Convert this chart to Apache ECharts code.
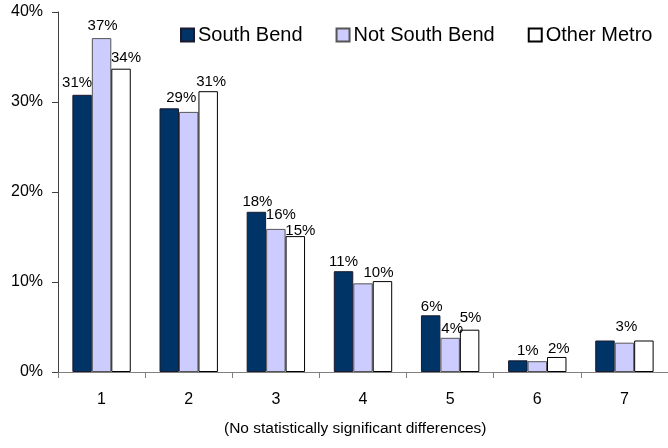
<!DOCTYPE html>
<html>
<head>
<meta charset="utf-8">
<script src="https://cdn.jsdelivr.net/npm/echarts@6/dist/echarts.min.js"></script>
<style>
html,body{margin:0;padding:0;background:#fff;}
#chart{width:668px;height:448px;}
</style>
</head>
<body>
<div id="chart"></div>
<script>
// ---- data ----
const categories = ['1', '2', '3', '4', '5', '6', '7'];
const seriesNames = ['South Bend', 'Not South Bend', 'Other Metro'];
const southBend    = [30.8, 29.3, 17.8, 11.2, 6.3, 1.3, 3.5];
const notSouthBend = [37.1, 28.9, 15.9, 9.85, 3.8, 1.2, 3.26];
const otherMetro   = [33.7, 31.2, 15.1, 10.1, 4.7, 1.67, 3.5];
// which data labels are visible (as in the original)
const showSB  = [true, true, true, true, true, true, false];
const showNSB = [true, false, true, false, true, false, true];
const showOM  = [true, true, true, true, true, true, false];
const yTicks = [0, 10, 20, 30, 40];
const subtitle = '(No statistically significant differences)';

// ---- label nudges (style only) ----
const offSB  = [[-5,-1],[12,0],[1,1],[0,1],[1,2],[10,1],[0,0]];
const offNSB = [[1,-2],[0,0],[5,-4],[0,0],[2,2],[0,0],[2,-5]];
const offOM  = [[5,0],[3,1],[5,5],[-4,2],[1,-1],[2,2],[0,0]];

const FONT = '"Liberation Sans", Arial, sans-serif';

function build(values, shows, offs) {
  return values.map((v, i) => ({
    value: v,
    label: { show: shows[i], offset: offs[i] }
  }));
}
const labelBase = {
  position: 'top',
  distance: 3,
  fontSize: 15,
  fontFamily: FONT,
  color: '#000',
  formatter: p => Math.round(p.value) + '%'
};

const chart = echarts.init(document.getElementById('chart'), null, {renderer: 'canvas'});
chart.setOption({
  animation: false,
  backgroundColor: '#fff',
  grid: { left: 58, right: 0, top: 12, bottom: 76, containLabel: false },
  legend: {
    data: seriesNames,
    left: 175,
    top: 20,
    icon: 'rect',
    itemWidth: 13,
    itemHeight: 13,
    itemGap: 33,
    textStyle: { fontSize: 20, fontFamily: FONT, color: '#000', padding: [0,0,0,-1] }
  },
  xAxis: {
    type: 'category',
    data: categories,
    axisLine: { lineStyle: { color: '#808080', width: 1 } },
    axisTick: { show: true, length: 6, lineStyle: { color: '#808080' } },
    axisLabel: { fontSize: 16, fontFamily: FONT, color: '#000', margin: 20 },
    splitLine: { show: false }
  },
  yAxis: {
    type: 'value',
    min: yTicks[0],
    max: yTicks[yTicks.length - 1],
    interval: yTicks[1] - yTicks[0],
    axisLine: { show: true, lineStyle: { color: '#404040', width: 1 } },
    axisTick: { show: true, length: 6, lineStyle: { color: '#404040' } },
    axisLabel: { fontSize: 16, fontFamily: FONT, color: '#000', margin: 15, formatter: '{value}%' },
    splitLine: { show: false }
  },
  graphic: [{
    type: 'text',
    left: 224,
    top: 421,
    style: { text: subtitle, fontSize: 15.5, fontFamily: FONT, fill: '#000' }
  }],
  series: [
    {
      name: seriesNames[0], type: 'bar', data: build(southBend, showSB, offSB),
      barGap: '0%', barCategoryGap: '33%',
      itemStyle: { color: '#003366', borderColor: '#1a1a2e', borderWidth: 1 },
      label: labelBase
    },
    {
      name: seriesNames[1], type: 'bar', data: build(notSouthBend, showNSB, offNSB),
      barGap: '0%', barCategoryGap: '33%',
      itemStyle: { color: '#CCCCFF', borderColor: '#555555', borderWidth: 1 },
      label: labelBase
    },
    {
      name: seriesNames[2], type: 'bar', data: build(otherMetro, showOM, offOM),
      barGap: '0%', barCategoryGap: '33%',
      itemStyle: { color: '#FFFFFF', borderColor: '#000000', borderWidth: 1 },
      label: labelBase
    }
  ]
});
</script>
</body>
</html>
